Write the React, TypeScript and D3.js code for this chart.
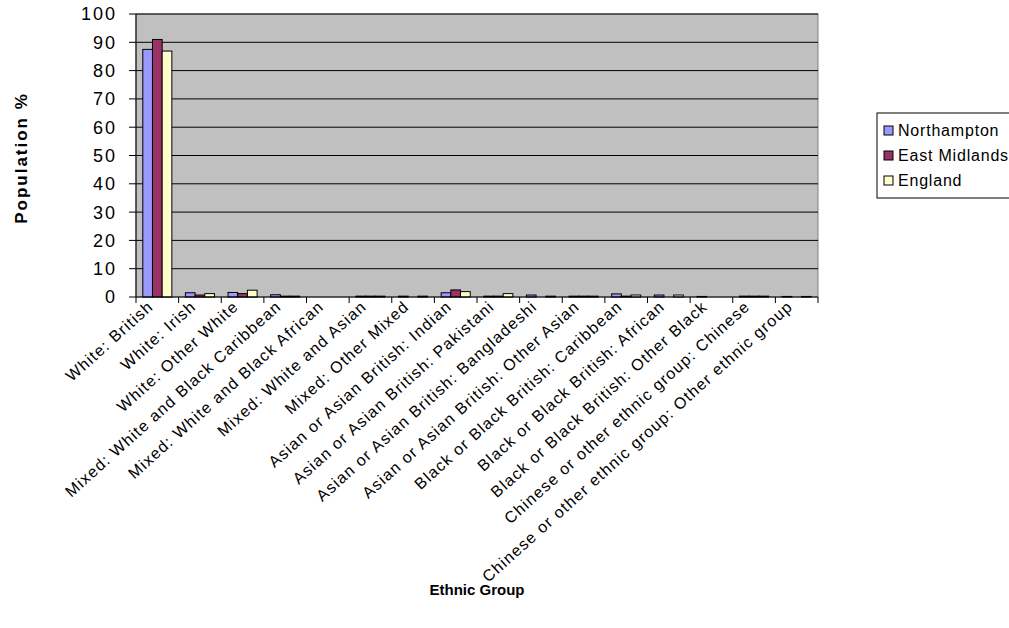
import React from "react";
import * as d3 from "d3";

const categories = [
  "White: British",
  "White: Irish",
  "White: Other White",
  "Mixed: White and Black Caribbean",
  "Mixed: White and Black African",
  "Mixed: White and Asian",
  "Mixed: Other Mixed",
  "Asian or Asian British: Indian",
  "Asian or Asian British: Pakistani",
  "Asian or Asian British: Bangladeshi",
  "Asian or Asian British: Other Asian",
  "Black or Black British: Caribbean",
  "Black or Black British: African",
  "Black or Black British: Other Black",
  "Chinese or other ethnic group: Chinese",
  "Chinese or other ethnic group: Other ethnic group",
];

const seriesNames = ["Northampton", "East Midlands", "England"];
const northampton = [87.5, 1.5, 1.6, 0.8, 0, 0.3, 0.3, 1.5, 0.3, 0.7, 0.3, 1.1, 0.7, 0.2, 0.3, 0.2];
const eastMidlands = [91.0, 0.7, 1.2, 0.3, 0, 0.3, 0, 2.5, 0.3, 0, 0.3, 0.3, 0, 0, 0.3, 0];
const england = [86.9, 1.2, 2.4, 0.3, 0, 0.3, 0.3, 1.9, 1.2, 0.3, 0.3, 0.7, 0.7, 0, 0.3, 0.2];
const seriesValues = [northampton, eastMidlands, england];
const seriesColors = ["#9999FF", "#993366", "#FFFFCC"];
const yTicks = [0, 10, 20, 30, 40, 50, 60, 70, 80, 90, 100];

const W = 1009;
const H = 628;
const plot = { left: 136, right: 818, top: 14, bottom: 297 };
const font = "Arial, 'Liberation Sans', sans-serif";

export default function App() {
  const x = d3.scaleBand<number>().domain(d3.range(categories.length)).range([plot.left, plot.right]).paddingInner(0).paddingOuter(0);
  const y = d3.scaleLinear().domain([0, 100]).range([plot.bottom, plot.top]);
  const bw = x.bandwidth();
  const barW = bw / 4.4;
  const groupOffset = (bw - barW * 3) / 2;

  return (
    <svg width={W} height={H} style={{ position: "absolute", left: 0, top: 0, background: "#fff" }} fontFamily={font}>
      <rect x={plot.left} y={plot.top} width={plot.right - plot.left} height={plot.bottom - plot.top} fill="#C0C0C0" stroke="#808080" strokeWidth={1} />
      {yTicks.filter((t) => t !== 0).map((t) => (
        <line key={"g" + t} x1={plot.left} x2={plot.right} y1={y(t)} y2={y(t)} stroke="#000" strokeWidth={1} />
      ))}
      {seriesValues.map((vals, si) =>
        vals.map((v, ci) => (
          <rect
            key={si + "-" + ci}
            x={(x(ci) as number) + groupOffset + si * barW}
            y={y(v)}
            width={barW}
            height={plot.bottom - y(v)}
            fill={seriesColors[si]}
            stroke="#000"
            strokeWidth={1}
          />
        ))
      )}
      <line x1={plot.left} x2={plot.left} y1={plot.top} y2={plot.bottom} stroke="#000" />
      <line x1={plot.left} x2={plot.right} y1={plot.bottom} y2={plot.bottom} stroke="#000" />
      {yTicks.map((t) => (
        <g key={"yt" + t}>
          <line x1={plot.left - 7} x2={plot.left} y1={y(t)} y2={y(t)} stroke="#000" />
          <text x={117} y={y(t)} dy="0.36em" textAnchor="end" fontSize={18} letterSpacing={2}>
            {t}
          </text>
        </g>
      ))}
      {d3.range(categories.length + 1).map((i) => {
        const xx = plot.left + i * bw;
        return <line key={"xt" + i} x1={xx} x2={xx} y1={plot.bottom} y2={plot.bottom + 6} stroke="#000" />;
      })}
      {categories.map((c, i) => {
        const cx = (x(i) as number) + bw / 2 - 3;
        const cy = plot.bottom + 11;
        return (
          <text key={"xl" + i} x={cx} y={cy} textAnchor="end" fontSize={16} letterSpacing={1.2} transform={`rotate(-42 ${cx} ${cy})`}>
            {c}
          </text>
        );
      })}
      <text x={0} y={0} transform={`translate(27 158) rotate(-90)`} textAnchor="middle" fontSize={17} fontWeight="bold" letterSpacing={2}>
        Population %
      </text>
      <text x={477} y={595} textAnchor="middle" fontSize={15} fontWeight="bold">
        Ethnic Group
      </text>
      <rect x={877} y={113} width={140} height={85} fill="#fff" stroke="#000" />
      {seriesNames.map((n, i) => (
        <g key={"lg" + i}>
          <rect x={884} y={126 + i * 25} width={9} height={9} fill={seriesColors[i]} stroke="#000" />
          <text x={898} y={130.5 + i * 25} dy="0.36em" fontSize={16} letterSpacing={0.8}>
            {n}
          </text>
        </g>
      ))}
    </svg>
  );
}
